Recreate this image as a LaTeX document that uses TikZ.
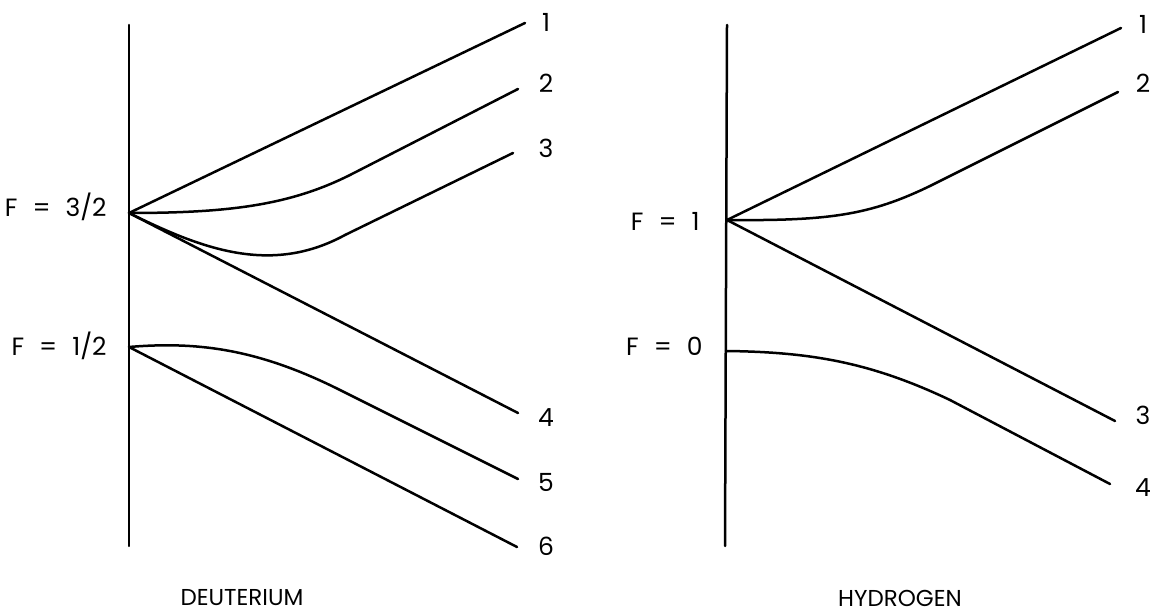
\documentclass[tikz,border=0pt]{standalone}
\usepackage{fontspec}
\setmainfont{Poppins}
\begin{document}
\begin{tikzpicture}[x=0.5pt,y=-0.5pt,
  lvl/.style={line width=1.25pt,line cap=round,line join=round},
  num/.style={font=\fontsize{12.5}{14}\selectfont,inner sep=0pt},
  flab/.style={font=\fontsize{12.5}{14}\selectfont,inner sep=0pt,anchor=east},
  title/.style={font=\fontsize{11.5}{13}\selectfont,inner sep=0pt}]
\useasboundingbox (0,0) rectangle (1156,613);
% ---------------- Deuterium ----------------
\coordinate (dtop) at (129,25);
\coordinate (dbot) at (129,546);
\coordinate (dA) at (129,213);
\coordinate (dB) at (129,347);
\coordinate (d1) at (525,23);
\coordinate (d2) at (518,89);
\coordinate (d3) at (513,153);
\coordinate (d4) at (518,413);
\coordinate (d5) at (518,479);
\coordinate (d6) at (517,547);
\draw[lvl] (dtop) -- (dbot);
\draw[lvl] (dA) -- (d1);
\draw[lvl] (dA) .. controls (230,213) and (290,205) .. (350,175) -- (d2);
\draw[lvl] (dA) .. controls (200,248) and (270,276) .. (345,235) -- (d3);
\draw[lvl] (dA) -- (d4);
\draw[lvl] (dB) .. controls (200,341) and (260,350) .. (340,390) -- (d5);
\draw[lvl] (dB) -- (d6);
\node[flab] (fd32) at (107,207) {F\hspace{0.6em}=\hspace{0.6em}3/2};
\node[flab] (fd12) at (107,346) {F\hspace{0.6em}=\hspace{0.6em}1/2};
\node[num] (nd1) at (546,22) {1};
\node[num] (nd2) at (546,83) {2};
\node[num] (nd3) at (546,148) {3};
\node[num] (nd4) at (546,418) {4};
\node[num] (nd5) at (546,482) {5};
\node[num] (nd6) at (546,546) {6};
\node[title] (deut) at (242,598) {DEUTERIUM};
% ---------------- Hydrogen ----------------
\coordinate (htop) at (727,25);
\coordinate (hbot) at (725,546);
\coordinate (hA) at (727,220);
\coordinate (hB) at (726,351);
\coordinate (h1) at (1121,28);
\coordinate (h2) at (1118,92);
\coordinate (h3) at (1115,421);
\coordinate (h4) at (1110,484);
\draw[lvl] (htop) -- (hbot);
\draw[lvl] (hA) -- (h1);
\draw[lvl] (hA) .. controls (830,221) and (870,215) .. (930,186) -- (h2);
\draw[lvl] (hA) -- (h3);
\draw[lvl] (hB) .. controls (810,352) and (870,362) .. (950,400) -- (h4);
\node[flab] (fh1) at (700,221) {F\hspace{0.6em}=\hspace{0.6em}1};
\node[flab] (fh0) at (703,346) {F\hspace{0.6em}=\hspace{0.6em}0};
\node[num] (nh1) at (1143,24) {1};
\node[num] (nh2) at (1143,83) {2};
\node[num] (nh3) at (1143,415) {3};
\node[num] (nh4) at (1143,488) {4};
\node[title] (hyd) at (900,598) {HYDROGEN};
\end{tikzpicture}
\end{document}
